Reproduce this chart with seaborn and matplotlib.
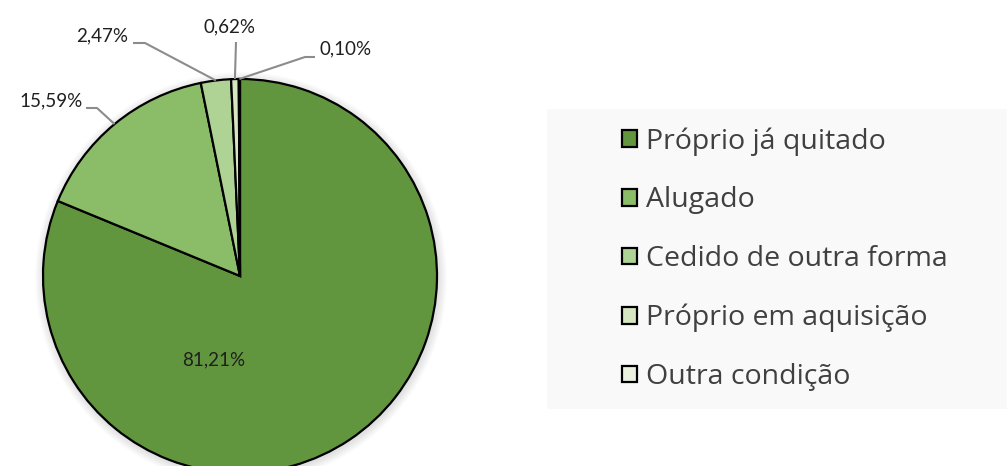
"""
Condição de ocupação do domicílio - gráfico de pizza com legenda lateral.
"""

import numpy as np
import matplotlib
matplotlib.use("Agg")
import matplotlib.pyplot as plt
import seaborn as sns
from matplotlib.patches import Rectangle, Circle

# ── Data ───────────────────────────────────────────────────────────────────────

categories = [
    "Próprio já quitado",
    "Alugado",
    "Cedido de outra forma",
    "Próprio em aquisição",
    "Outra condição",
]
shares = [81.21, 15.59, 2.47, 0.62, 0.10]
colors = ["#62963E", "#8BBD69", "#AED395", "#D6E6C1", "#EAF1DE"]

# ── Layout (pixels, origin top-left) ───────────────────────────────────────────

W, H = 1007, 466
CENTER = (240, 276)
RADIUS = 197
# outer labels: text position, alignment, leader points on the label side
OUTER = {
    1: dict(xy=(83, 101), ha="right", path=[(86, 108), (97, 108)]),
    2: dict(xy=(128, 36), ha="right", path=[(133, 43), (145, 43)]),
    3: dict(xy=(230, 27), ha="center", path=[(236, 42)]),
    4: dict(xy=(320, 49), ha="left", path=[(315, 57), (305, 57)]),
}
INNER_LABEL = (214, 360)


def px(x, y):
    """Pixel (top-left origin) -> data coords (bottom-left origin)."""
    return x, H - y


def fmt(v):
    return f"{v:.2f}%".replace(".", ",")


def main():
    sns.set_theme(style="white")
    plt.rcParams["font.family"] = ["Lato", "DejaVu Sans"]

    fig = plt.figure(figsize=(W / 100, H / 100), dpi=100)
    fig.patch.set_facecolor("white")

    # legend background panel
    fig.patches.append(Rectangle((547 / W, (H - 409) / H), 460 / W, 300 / H,
                                 transform=fig.transFigure, facecolor="#F9F9F9",
                                 edgecolor="none", zorder=0))

    ax = fig.add_axes([0, 0, 1, 1])
    ax.set_facecolor("none")
    cx, cy = px(*CENTER)

    # soft shadow
    for i in range(10, 0, -1):
        ax.add_patch(Circle((cx + 1, cy - 2), RADIUS + i * 0.9, facecolor="black",
                            edgecolor="none", alpha=0.012, zorder=0))

    wedges, _ = ax.pie(shares, colors=colors, startangle=90, counterclock=False,
                       radius=RADIUS, center=(cx, cy), frame=True,
                       wedgeprops=dict(edgecolor="black", linewidth=1.6))
    ax.set_xlim(0, W)
    ax.set_ylim(0, H)
    ax.set_aspect("equal")
    ax.axis("off")

    for i, w in enumerate(wedges):
        if i == 0:
            x, y = px(*INNER_LABEL)
            ax.text(x, y, fmt(shares[i]), ha="center", va="center",
                    fontsize=13.5, color="#1F1F1F")
            continue
        spec = OUTER[i]
        mid = np.deg2rad((w.theta1 + w.theta2) / 2)
        ex = cx + RADIUS * np.cos(mid)
        ey = cy + RADIUS * np.sin(mid)
        pts = [px(*p) for p in spec["path"]]
        xs = [p[0] for p in pts] + [ex]
        ys = [p[1] for p in pts] + [ey]
        ax.plot(xs, ys, color="#8C8C8C", linewidth=1.5, zorder=1,
                solid_capstyle="butt")
        tx, ty = px(*spec["xy"])
        ax.text(tx, ty, fmt(shares[i]), ha=spec["ha"], va="center",
                fontsize=13.5, color="#1F1F1F")

    fig.legend(wedges, categories, loc="center left",
               bbox_to_anchor=(622 / W, (H - 259) / H), frameon=False,
               prop=dict(family=["Open Sans", "DejaVu Sans"], size=20.5),
               labelcolor="#404040", handlelength=0.53,
               handleheight=0.53, handletextpad=0.3, labelspacing=1.08,
               borderpad=0, borderaxespad=0)

    fig.savefig("out.png", dpi=100)
    plt.close(fig)


if __name__ == "__main__":
    main()
